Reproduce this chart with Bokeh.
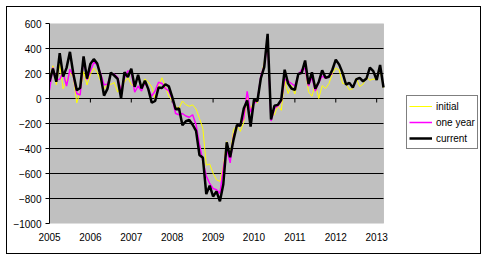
import numpy as np
from bokeh.plotting import figure
from bokeh.models import FixedTicker, Legend, LegendItem, Range1d, BoxAnnotation
from bokeh.embed import file_html
from bokeh.resources import INLINE

# ---- data (monthly, Jan 2005 .. Mar 2013) ----
years = ["2005", "2006", "2007", "2008", "2009", "2010", "2011", "2012", "2013"]

initial = [
    146, 262, 110, 274, 78, 146, 207, 169, -35, 56, 215, 108,
    193, 243, 211, 138, 75, 121, 113, 128, 51, 92, 132, 167,
    111, 97, 180, 88, 157, 132, 92, -4, 110, 166, 94, 18,
    -17, -63, -80, -20, -49, -62, -51, -84, -159, -240, -533, -524,
    -598, -651, -663, -539, -345, -467, -247, -216, -263, -190, 11, -85,
    -20, -36, 162, 290, 431, -125, -131, -54, -95, 151, 39, 103,
    36, 192, 216, 244, 54, 18, 117, 0, 103, 80, 120, 200,
    243, 227, 120, 115, 69, 80, 163, 96, 114, 171, 146, 155,
    157, 236, 88,
]

one_year = [
    66, 247, 150, 154, 207, 100, 234, 180, 40, 28, 330, 150,
    220, 288, 271, 200, 110, 114, 194, 194, 167, 60, 167, 221,
    215, 50, 100, 60, 130, 70, 20, 60, 130, 120, 80, 60,
    0, -120, -130, -120, -140, -150, -130, -210, -370, -500, -620, -680,
    -720, -730, -760, -560, -400, -515, -300, -220, -210, -160, 58, -110,
    -40, -20, 180, 260, 460, -180, -80, -60, -20, 154, 140, 120,
    100, 190, 230, 240, 100, 170, 60, 127, 180, 160, 180, 200,
]

current = [
    134, 239, 134, 363, 175, 245, 373, 196, 67, 84, 337, 159,
    277, 315, 280, 182, 23, 77, 207, 184, 157, 2, 210, 171,
    238, 93, 190, 80, 143, 75, -34, -20, 88, 84, 114, 98,
    13, -86, -80, -214, -182, -172, -210, -259, -452, -474, -765, -697,
    -784, -743, -823, -686, -351, -470, -329, -212, -219, -80, -15, -225,
    -10, -20, 160, 251, 517, -167, -58, -51, -10, 230, 121, 80,
    69, 196, 205, 304, 115, 209, 78, 132, 225, 166, 174, 230,
    311, 271, 205, 112, 125, 87, 153, 165, 138, 160, 247, 219,
    148, 268, 88,
]

y_ticks = list(range(-1000, 601, 200))
grid_ticks = [t for t in y_ticks if -1000 < t < 600]
year_ticks = [12 * k for k in range(len(years))]

x_init = list(range(len(initial)))
x_one = list(range(len(one_year)))
x_cur = list(range(len(current)))
x_last = len(current) - 1

FONT = "Liberation Sans"

# layout: the frame spans the grey plot area plus the legend area on its right
W, H = 475, 248
LEFT, RIGHT, TOP, BOTTOM = 42, 1, 16, 32
FRAME_W = W - LEFT - RIGHT          # 432 px
PLOT_W = 334                        # grey plot area width in px
FRAME_H = H - TOP - BOTTOM          # 200 px
x_end = x_last * FRAME_W / PLOT_W

p = figure(
    width=W, height=H,
    output_backend="svg", toolbar_location=None,
    x_range=Range1d(0, x_end),
    y_range=Range1d(y_ticks[0], y_ticks[-1]),
    min_border_left=LEFT, min_border_right=RIGHT,
    min_border_top=TOP, min_border_bottom=BOTTOM,
    background_fill_color="white", border_fill_color="white",
    outline_line_color=None,
    margin=(6, 0, 0, 6),
    styles={"border": "1px solid black"},
)

# grey plot area with grey border
p.add_layout(BoxAnnotation(left=0, right=x_last, bottom=y_ticks[0], top=y_ticks[-1],
                           fill_color="#C0C0C0", fill_alpha=1,
                           line_color="#808080", line_width=1, level="image"))

# y axis
p.yaxis.ticker = FixedTicker(ticks=y_ticks)
p.yaxis.major_tick_out = 4
p.yaxis.major_tick_in = 0
p.yaxis.minor_tick_line_color = None
p.yaxis.axis_line_color = "black"
p.yaxis.major_tick_line_color = "black"
p.yaxis.major_label_standoff = 4
p.yaxis.major_label_text_font = FONT
p.yaxis.major_label_text_font_size = "10px"
p.yaxis.major_label_text_color = "black"

# x axis (labels at bottom)
p.xaxis.ticker = FixedTicker(ticks=year_ticks)
p.xaxis.major_label_overrides = {t: y for t, y in zip(year_ticks, years)}
p.xaxis.major_tick_out = 0
p.xaxis.major_tick_in = 0
p.xaxis.minor_tick_line_color = None
p.xaxis.axis_line_color = None
p.xaxis.major_label_standoff = 9
p.xaxis.major_label_text_font = FONT
p.xaxis.major_label_text_font_size = "10px"
p.xaxis.major_label_text_color = "black"

# grid lines only across the grey plot area
p.xgrid.grid_line_color = None
p.ygrid.grid_line_color = None
p.segment(x0=[0] * len(grid_ticks), y0=grid_ticks,
          x1=[x_last] * len(grid_ticks), y1=grid_ticks,
          line_color="black", line_width=1)

# small year tick marks hanging below the zero line (length in data units)
tick_len = (y_ticks[-1] - y_ticks[0]) / FRAME_H * 4
p.segment(x0=year_ticks, y0=[0] * len(year_ticks),
          x1=year_ticks, y1=[-tick_len] * len(year_ticks),
          line_color="black", line_width=1)

r1 = p.line(x_init, initial, line_color="#FFFF00", line_width=1)
r2 = p.line(x_one, one_year, line_color="#FF00FF", line_width=1.5)
r3 = p.line(x_cur, current, line_color="black", line_width=2.5)

legend = Legend(
    items=[
        LegendItem(label="initial", renderers=[r1]),
        LegendItem(label="one year", renderers=[r2]),
        LegendItem(label="current", renderers=[r3]),
    ],
    location=(357, 74),
    glyph_width=23, glyph_height=16, label_height=16,
    label_standoff=4, spacing=0, padding=2, margin=0,
    border_line_color="black", border_line_width=1,
    background_fill_color="white", background_fill_alpha=1,
    label_text_font=FONT, label_text_font_size="10px",
    label_text_color="black",
)
p.add_layout(legend)

open("out.html", "w").write(file_html(p, INLINE))
